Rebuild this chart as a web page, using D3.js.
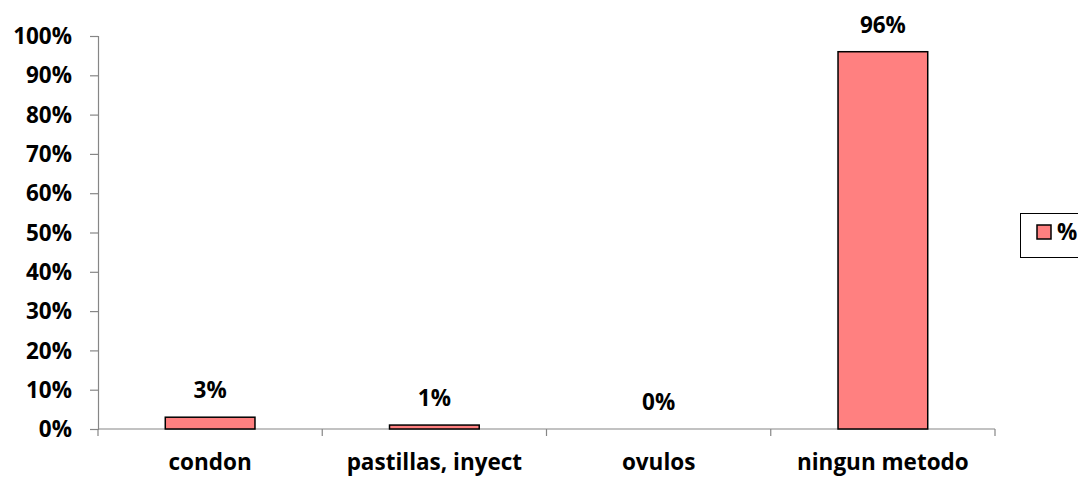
<!DOCTYPE html>
<html>
<head>
<meta charset="utf-8">
<script src="https://cdn.jsdelivr.net/npm/d3@7"></script>
<style>
  html, body { margin: 0; padding: 0; background: #fff; }
  svg { display: block; }
  text { font-family: "Open Sans", Lato, sans-serif; font-weight: bold; fill: #000; }
</style>
</head>
<body>
<svg id="chart" width="1078" height="477"></svg>
<script>
// Contraceptive method usage (share of respondents)
const categories = ["condon", "pastillas, inyect", "ovulos", "ningun metodo"];
const values = [3, 1, 0, 96];
const yTicks = [0, 10, 20, 30, 40, 50, 60, 70, 80, 90, 100];
const seriesName = "%";

const svg = d3.select("#chart");
const plotLeft = 98, plotRight = 995, plotTop = 36, plotBottom = 429;
const fontSize = "22.5px";

const x = d3.scaleBand().domain(categories).range([plotLeft, plotRight]).paddingInner(0.6).paddingOuter(0.3);
const xb = d3.scaleBand().domain(categories).range([plotLeft, plotRight]);
const y = d3.scaleLinear().domain([0, 100]).range([plotBottom, plotTop]);

// Y axis
const yAxis = svg.append("g").attr("transform", `translate(${plotLeft},0)`)
  .call(d3.axisLeft(y).tickValues(yTicks).tickSize(8).tickPadding(18).tickFormat(d => d + "%"));
yAxis.select(".domain").attr("stroke", "#868686").attr("stroke-width", 1.2);
yAxis.selectAll(".tick line").attr("stroke", "#868686").attr("stroke-width", 1.2);
yAxis.selectAll(".tick text").style("font-size", fontSize).attr("fill", "#000").attr("dy", "0.34em");

// X axis with boundary ticks
const xg = svg.append("g").attr("transform", `translate(0,${plotBottom})`);
xg.append("line").attr("x1", plotLeft).attr("x2", plotRight).attr("stroke", "#868686").attr("stroke-width", 1.2);
const bounds = categories.map(c => xb(c) + xb.bandwidth()).concat([plotLeft]);
xg.selectAll("line.tk").data(bounds).join("line").attr("class", "tk")
  .attr("x1", d => d).attr("x2", d => d).attr("y1", 0).attr("y2", 7)
  .attr("stroke", "#868686").attr("stroke-width", 1.2);
xg.selectAll("text.cat").data(categories).join("text").attr("class", "cat")
  .attr("x", d => xb(d) + xb.bandwidth() / 2).attr("y", 41)
  .attr("text-anchor", "middle").style("font-size", fontSize).text(d => d);

// Bars
svg.selectAll("rect.bar").data(categories).join("rect").attr("class", "bar")
  .attr("x", d => x(d)).attr("width", x.bandwidth())
  .attr("y", (d, i) => y(values[i])).attr("height", (d, i) => plotBottom - y(values[i]))
  .attr("fill", "#FF8080").attr("stroke", "#000").attr("stroke-width", 1.5)
  .style("display", (d, i) => values[i] > 0 ? null : "none");

// Value labels
svg.selectAll("text.val").data(categories).join("text").attr("class", "val")
  .attr("x", d => x(d) + x.bandwidth() / 2)
  .attr("y", (d, i) => y(values[i]) - 19)
  .attr("text-anchor", "middle").style("font-size", fontSize)
  .text((d, i) => values[i] + "%");

// Legend
const lg = svg.append("g");
lg.append("rect").attr("x", 1020.5).attr("y", 213.5).attr("width", 70).attr("height", 44)
  .attr("fill", "#fff").attr("stroke", "#000").attr("stroke-width", 1);
lg.append("rect").attr("x", 1037).attr("y", 225).attr("width", 14).attr("height", 14)
  .attr("fill", "#FF8080").attr("stroke", "#000").attr("stroke-width", 1.5);
lg.append("text").attr("x", 1057).attr("y", 240).style("font-size", fontSize).text(seriesName);
</script>
</body>
</html>
